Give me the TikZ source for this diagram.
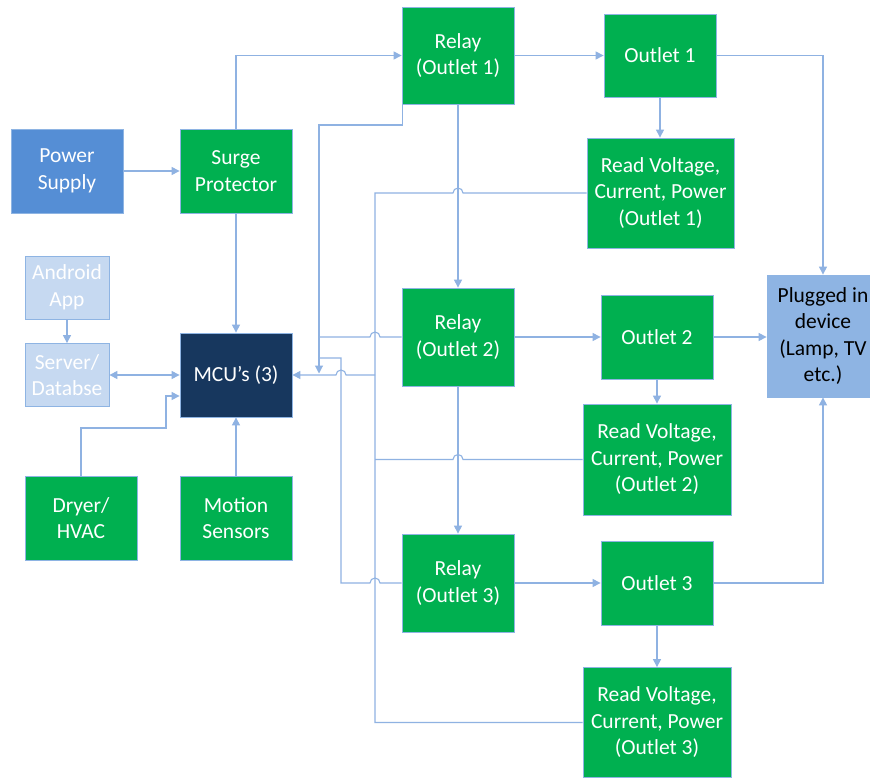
\documentclass[tikz,border=0pt]{standalone}
\usepackage{fontspec}
\setmainfont{Carlito}
\usetikzlibrary{arrows.meta,calc}
\definecolor{grn}{HTML}{00B050}
\definecolor{psblue}{HTML}{558ED5}
\definecolor{ltblue}{HTML}{C6D9F1}
\definecolor{navy}{HTML}{17375E}
\definecolor{plblue}{HTML}{8EB4E3}
\definecolor{edge}{HTML}{8EB4E3}
\definecolor{ln}{HTML}{8FB2E2}
\begin{document}
\begin{tikzpicture}[x=1pt,y=-1pt,
  box/.style={draw=edge, line width=0.8pt, align=center, inner sep=0pt,
    font=\fontsize{21.5}{26.5}\selectfont, text=white},
  gbox/.style={box, fill=grn},
  conn/.style={draw=ln, line width=1.1pt},
  arr/.style={conn, -{Triangle[width=8pt,length=8pt]}},
  darr/.style={conn, {Triangle[width=8pt,length=8pt]}-{Triangle[width=8pt,length=8pt]}},
]
\useasboundingbox (0,0) rectangle (870,778);
\fill[white] (0,0) rectangle (870,778);

% boxes
\node[box, fill=psblue, minimum width=112pt, minimum height=84pt] (ps) at (67,171) {Power\\Supply};
\node[gbox, minimum width=112pt, minimum height=84pt] (sp) at (236,171) {Surge\\Protector};
\node[box, fill=ltblue, minimum width=84pt, minimum height=63pt] (aa) at (67,287.5) {Android\\App};
\node[box, fill=ltblue, minimum width=84pt, minimum height=63pt] (sd) at (67,375) {Server/\\Databse};
\node[box, fill=navy, minimum width=112pt, minimum height=84pt] (mcu) at (236,375) {MCU’s (3)};
\node[gbox, minimum width=112pt, minimum height=84pt] (dr) at (81,518) {Dryer/\\HVAC};
\node[gbox, minimum width=112pt, minimum height=84pt] (ms) at (236,518) {Motion\\Sensors};

\node[gbox, minimum width=112pt, minimum height=97pt] (r1) at (458,55.5) {Relay\\(Outlet 1)};
\node[gbox, minimum width=112pt, minimum height=83pt] (o1) at (660,55.5) {Outlet 1};
\node[gbox, minimum width=147pt, minimum height=110pt] (v1) at (660.5,193) {Read Voltage,\\Current, Power\\(Outlet 1)};

\node[gbox, minimum width=112pt, minimum height=98pt] (r2) at (458,337) {Relay\\(Outlet 2)};
\node[gbox, minimum width=112pt, minimum height=84pt] (o2) at (657,337) {Outlet 2};
\node[gbox, minimum width=148pt, minimum height=111pt] (v2) at (657,459.5) {Read Voltage,\\Current, Power\\(Outlet 2)};

\node[gbox, minimum width=112pt, minimum height=98pt] (r3) at (458,583) {Relay\\(Outlet 3)};
\node[gbox, minimum width=112pt, minimum height=84pt] (o3) at (657,583) {Outlet 3};
\node[gbox, minimum width=148pt, minimum height=110pt] (v3) at (657,722.5) {Read Voltage,\\Current, Power\\(Outlet 3)};

\node[box, fill=plblue, text=black, minimum width=112pt, minimum height=122pt] (pl) at (823,336) {Plugged in\\device\\(Lamp, TV\\etc.)};

% main power chain
\draw[arr] (ps.east) -- (sp.west);
\draw[arr] (sp.north) |- (r1.west);
\draw[arr] (sp.south) -- (mcu.north);
\draw[arr] (r1.east) -- (o1.west);
\draw[arr] (o1.south) -- (o1.south |- v1.north);
\draw[arr] (o1.east) -| (pl.north);
\draw[arr] (r1.south) -- (r2.north);
\draw[arr] (r2.east) -- (o2.west);
\draw[arr] (o2.east) -- (o2.east -| pl.west);
\draw[arr] (o2.south) -- (v2.north);
\draw[arr] (r2.south) -- (r3.north);
\draw[arr] (r3.east) -- (o3.west);
\draw[arr] (o3.south) -- (v3.north);
\draw[arr] (o3.east) -| (pl.south);

% left side
\draw[arr] (aa.south) -- (sd.north);
\draw[darr] (sd.east) -- (mcu.west);
\draw[arr] (ms.north) -- (mcu.south);
\coordinate (d1) at (166,428);
\draw[arr] (dr.north) |- (d1) |- ($(mcu.west)+(0,21)$);

% relay control lines
\coordinate (cA) at (319,125);
\coordinate (cB) at (319,373.5);
\draw[arr] ($(r1.south west)+(0.5,0)$) |- (cA) -- (cB);
\draw[conn] (r2.west) -- (380,337) arc[start angle=0,end angle=180,radius=5pt] -- (r2.west -| cA);
\coordinate (c3) at (341,358);
\draw[conn] (r3.west) -- (380,583) arc[start angle=0,end angle=180,radius=5pt] -- (r3.west -| c3) -- (c3) -- (c3 -| cA);

% readings lines
\coordinate (vx) at (375,193);
\draw[conn] (v1.west) -- (463,193) arc[start angle=0,end angle=180,radius=5pt] -- (vx) -- (vx |- v3.west) -- (v3.west);
\draw[conn] (v2.west) -- (463,459.5) arc[start angle=0,end angle=180,radius=5pt] -- (vx |- v2.west);
\draw[arr] (vx |- mcu.east) -- (346,375) arc[start angle=0,end angle=180,radius=5pt] -- (mcu.east);
\end{tikzpicture}
\end{document}
